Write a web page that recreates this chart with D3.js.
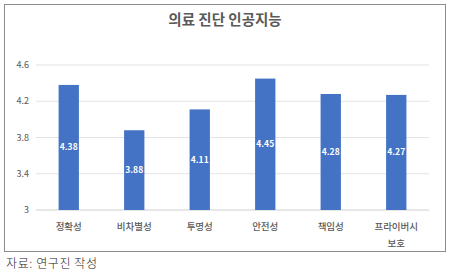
<!DOCTYPE html>
<html>
<head>
<meta charset="utf-8">
<script src="https://cdn.jsdelivr.net/npm/d3@7"></script>
<style>
body { margin:0; background:#fff; }
svg { display:block; }
</style>
</head>
<body>
<svg id="chart" width="454" height="275"></svg>
<script>
var categories = ['정확성', '비차별성', '투명성', '안전성', '책임성', '프라이버시 보호']
var values = [4.38, 3.88, 4.11, 4.45, 4.28, 4.27]
var yTicks = [3, 3.4, 3.8, 4.2, 4.6]
var title = '의료 진단 인공지능'
var source = '자료: 연구진 작성'

var font = "'Noto Sans CJK KR', 'Noto Sans', sans-serif"
var svg = d3.select('#chart')

svg.append('rect')
    .attr('x', 4.5).attr('y', 4.5)
    .attr('width', 441).attr('height', 247)
    .attr('fill', '#fff')
    .attr('stroke', '#8c8c8c')

svg.append('text')
    .attr('x', 225).attr('y', 25)
    .attr('text-anchor', 'middle')
    .attr('font-family', font)
    .attr('font-size', 14.5)
    .attr('font-weight', 'bold')
    .attr('fill', '#595959')
    .text(title)

var x = d3.scaleBand()
    .domain(categories)
    .range([36, 429])
    .paddingInner(0.69)
    .paddingOuter(0.345)

var y = d3.scaleLinear()
    .domain([3, 4.6])
    .range([210, 65])

var g = svg.append('g')

g.selectAll('line.grid')
    .data(yTicks)
    .join('line')
    .attr('class', 'grid')
    .attr('x1', 36).attr('x2', 429)
    .attr('y1', d=> y(d)).attr('y2', d=> y(d))
    .attr('stroke', d=> d == 3 ? '#d0d0d0' : '#e3e3e3')
    .attr('stroke-width', 1)

g.selectAll('text.ytick')
    .data(yTicks)
    .join('text')
    .attr('class', 'ytick')
    .attr('x', 29)
    .attr('y', d=> y(d))
    .attr('dy', '0.35em')
    .attr('text-anchor', 'end')
    .attr('font-family', font)
    .attr('font-size', 9)
    .attr('fill', '#595959')
    .text(d=> d)

g.selectAll('rect.bar')
    .data(values)
    .join('rect')
    .attr('class', 'bar')
    .attr('x', (d, i)=> x(categories[i]))
    .attr('width', x.bandwidth())
    .attr('y', d=> y(d))
    .attr('height', d=> y(3) - y(d))
    .attr('fill', '#4472c4')

g.selectAll('text.val')
    .data(values)
    .join('text')
    .attr('class', 'val')
    .attr('x', (d, i)=> x(categories[i]) + x.bandwidth() / 2)
    .attr('y', d=> (y(d) + y(3)) / 2)
    .attr('dy', '0.35em')
    .attr('text-anchor', 'middle')
    .attr('font-family', font)
    .attr('font-size', 8.5)
    .attr('font-weight', 'bold')
    .attr('fill', '#fff')
    .text(d=> d.toFixed(2))

var xl = g.selectAll('text.xl')
    .data(categories)
    .join('text')
    .attr('class', 'xl')
    .attr('x', d=> x(d) + x.bandwidth() / 2)
    .attr('y', 230)
    .attr('text-anchor', 'middle')
    .attr('font-family', font)
    .attr('font-size', 9.5)
    .attr('font-weight', 500)
    .attr('fill', '#595959')

xl.each(function (d) {
    var parts = d.split(' ')
    var t = d3.select(this)
    parts.forEach((p, k)=> {
        t.append('tspan')
            .attr('x', x(d) + x.bandwidth() / 2)
            .attr('dy', k == 0 ? 0 : 17)
            .text(p)
    })
})

svg.append('text')
    .attr('x', 6).attr('y', 268)
    .attr('font-family', font)
    .attr('font-size', 12)
    .attr('font-weight', 300)
    .attr('letter-spacing', 0.6)
    .attr('fill', '#222')
    .text(source)
</script>
</body>
</html>
